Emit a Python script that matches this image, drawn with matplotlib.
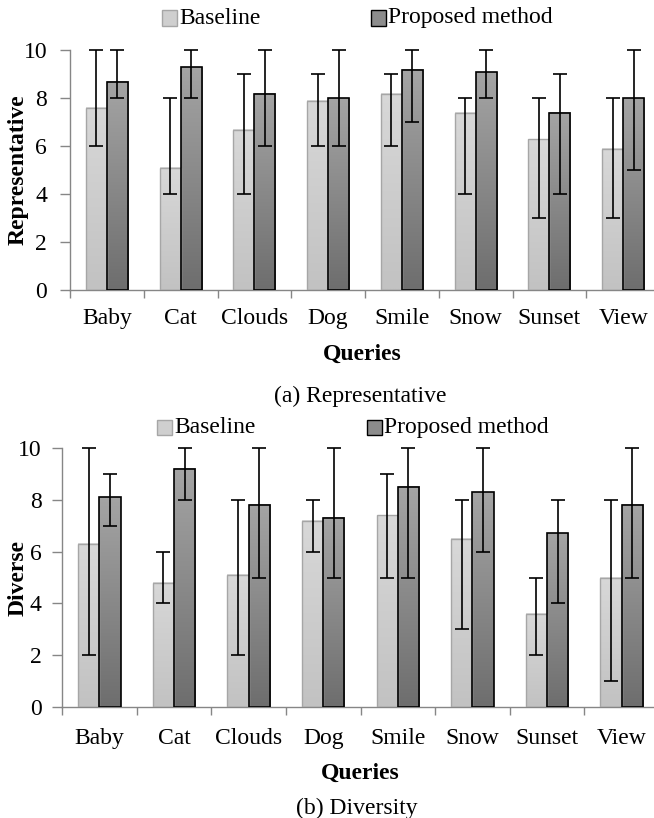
import numpy as np
import matplotlib
matplotlib.use("Agg")
import matplotlib.pyplot as plt
from matplotlib.patches import Rectangle
from matplotlib.colors import to_rgb

plt.rcParams['font.family'] = ['Liberation Serif', 'DejaVu Serif']

# ==========================================
# DATA
# ==========================================
queries = ["Baby", "Cat", "Clouds", "Dog", "Smile", "Snow", "Sunset", "View"]

# (a) Representative
rep_base = [7.6, 5.1, 6.7, 7.9, 8.2, 7.4, 6.3, 5.9]
rep_base_lo = [6, 4, 4, 6, 6, 4, 3, 3]
rep_base_hi = [10, 8, 9, 9, 9, 8, 8, 8]
rep_prop = [8.7, 9.3, 8.2, 8.0, 9.2, 9.1, 7.4, 8.0]
rep_prop_lo = [8, 8, 6, 6, 7, 8, 4, 5]
rep_prop_hi = [10, 10, 10, 10, 10, 10, 9, 10]

# (b) Diversity
div_base = [6.3, 4.8, 5.1, 7.2, 7.4, 6.5, 3.6, 5.0]
div_base_lo = [2, 4, 2, 6, 5, 3, 2, 1]
div_base_hi = [10, 6, 8, 8, 9, 8, 5, 8]
div_prop = [8.1, 9.2, 7.8, 7.3, 8.5, 8.3, 6.7, 7.8]
div_prop_lo = [7, 8, 5, 5, 5, 6, 4, 5]
div_prop_hi = [9, 10, 10, 10, 10, 10, 8, 10]

W, H = 654, 818
FS = 17
AXIS_GRAY = "#868686"
bar_w = 0.285

# gradient colours (top, bottom) and edge colours
base_grad = ("#d8d8d8", "#c2c2c2")
prop_grad = ("#a4a4a4", "#6e6e6e")
base_edge = "#a6a6a6"
prop_edge = "#000000"


def gradient_bars(ax, xs, vals, grad, edge, lw):
    top_c = np.array(to_rgb(grad[0]))
    bot_c = np.array(to_rgb(grad[1]))
    t = np.linspace(0, 1, 64)[:, None, None]
    img = top_c[None, None, :] * (1 - t) + bot_c[None, None, :] * t
    for x, v in zip(xs, vals):
        ax.imshow(img, extent=[x - bar_w / 2, x + bar_w / 2, 0, v],
                  aspect='auto', interpolation='bilinear', zorder=2)
    ax.bar(xs, vals, width=bar_w, facecolor='none', edgecolor=edge,
           linewidth=lw, zorder=3)


def draw_errors(ax, xs, vals, lo, hi):
    vals = np.array(vals)
    lines = ax.errorbar(xs, vals, yerr=[vals - np.array(lo), np.array(hi) - vals],
                        fmt='none', ecolor='black', elinewidth=1.2, capsize=5,
                        capthick=1.2, zorder=4)
    for art in lines.get_children():
        art.set_clip_on(False)


def draw_panel(rect, base, blo, bhi, prop, plo, phi, ylab, ylab_y, ypad, xpad):
    ax = fig.add_axes(rect)
    x = np.arange(len(queries))
    xb = x - bar_w / 2
    xp = x + bar_w / 2
    gradient_bars(ax, xb, base, base_grad, base_edge, 1.0)
    gradient_bars(ax, xp, prop, prop_grad, prop_edge, 1.2)
    draw_errors(ax, xb, base, blo, bhi)
    draw_errors(ax, xp, prop, plo, phi)

    ax.set_xlim(-0.5, len(queries) - 0.5)
    ax.set_ylim(0, 10)
    ax.set_yticks([0, 2, 4, 6, 8, 10])
    ax.set_xticks(x)
    ax.set_xticklabels(queries, fontsize=FS)
    ax.set_xticks(np.arange(len(queries)) - 0.5, minor=True)
    ax.tick_params(axis='x', which='major', length=0, pad=xpad)
    ax.tick_params(axis='x', which='minor', length=6, color=AXIS_GRAY, width=1)
    ax.tick_params(axis='y', length=7, color=AXIS_GRAY, width=1,
                   labelsize=FS, pad=ypad)
    for s in ['top', 'right']:
        ax.spines[s].set_visible(False)
    for s in ['left', 'bottom']:
        ax.spines[s].set_color(AXIS_GRAY)
        ax.spines[s].set_linewidth(1)
    fig.text(18 / W, 1 - ylab_y / H, ylab, rotation=90, fontsize=FS,
             fontweight='bold', ha='center', va='center')
    return ax


def legend_row(y_px, x_sq1, x_sq2):
    sq = 15
    for xs, c, e, lab in [(x_sq1, "#cfcfcf", base_edge, "Baseline"),
                          (x_sq2, "#8c8c8c", "#000000", "Proposed method")]:
        fig.patches.append(Rectangle((xs / W, 1 - (y_px + sq / 2) / H),
                                     sq / W, sq / H, transform=fig.transFigure,
                                     facecolor=c, edgecolor=e, linewidth=1))
        fig.text((xs + sq + 2) / W, 1 - y_px / H, lab, fontsize=FS,
                 ha='left', va='center')


fig = plt.figure(figsize=(W / 100, H / 100), dpi=100)

# top panel: y=10 at 50.5 px, y=0 at 290 px, x from 70 to 660 px
draw_panel([70 / W, 1 - 290 / H, 590 / W, 239.5 / H],
           rep_base, rep_base_lo, rep_base_hi,
           rep_prop, rep_prop_lo, rep_prop_hi,
           "Representative", 170, 9.5, 13)
legend_row(18, 162, 371)
fig.text(362 / W, 1 - 354 / H, "Queries", fontsize=FS, fontweight='bold',
         ha='center', va='center')
fig.text(360 / W, 1 - 396 / H, "(a) Representative", fontsize=FS,
         ha='center', va='center')

# bottom panel: y=10 at 448 px, y=0 at 707 px, x from 62 to 659 px
draw_panel([62 / W, 1 - 707 / H, 597 / W, 259 / H],
           div_base, div_base_lo, div_base_hi,
           div_prop, div_prop_lo, div_prop_hi,
           "Diverse", 578, 7.5, 15)
legend_row(427, 157, 367)
fig.text(360 / W, 1 - 773 / H, "Queries", fontsize=FS, fontweight='bold',
         ha='center', va='center')
fig.text(357 / W, 1 - 808 / H, "(b) Diversity", fontsize=FS,
         ha='center', va='center')

fig.savefig("out.png", dpi=100)
